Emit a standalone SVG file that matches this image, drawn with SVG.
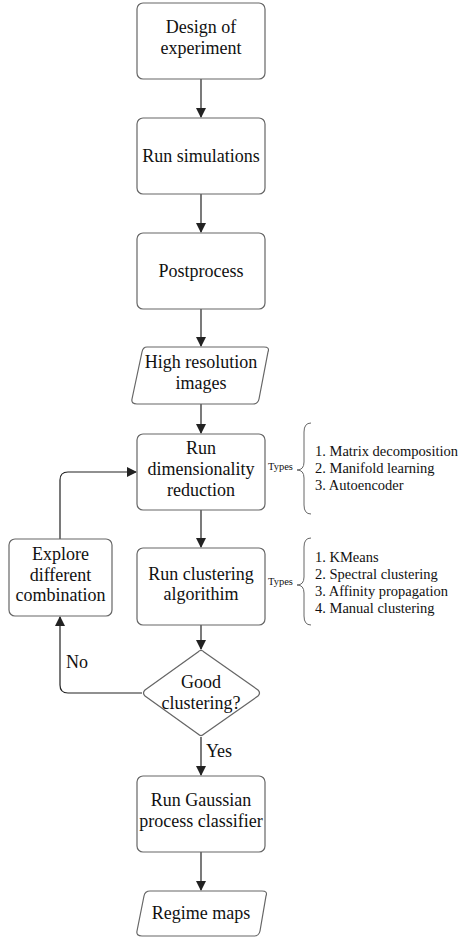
<svg xmlns="http://www.w3.org/2000/svg" width="459" height="939" viewBox="0 0 459 939">
<defs>
<marker id="ah" markerWidth="10" markerHeight="10" refX="9" refY="5" orient="auto" markerUnits="userSpaceOnUse"><path d="M0,0 L10,5 L0,10 Z" fill="#222"/></marker>
<style>
.box{fill:#fff;stroke:#666;stroke-width:1.2}
.t{font-family:'Liberation Serif','Times New Roman',Tinos,'DejaVu Serif',serif;font-size:18px;fill:#111;text-anchor:middle}
.s{font-family:'Liberation Serif','Times New Roman',Tinos,'DejaVu Serif',serif;font-size:14.5px;fill:#111}
.ty{font-family:'Liberation Serif','Times New Roman',Tinos,'DejaVu Serif',serif;font-size:10.5px;fill:#111}
.c{fill:none;stroke:#222;stroke-width:1.2}
.br{fill:none;stroke:#666;stroke-width:1}
</style>
</defs>
<rect width="459" height="939" fill="#fff"/>
<g id="connectors">
<path class="c" d="M201,79 V117" marker-end="url(#ah)"/>
<path class="c" d="M201,194 V232" marker-end="url(#ah)"/>
<path class="c" d="M201,309 V346" marker-end="url(#ah)"/>
<path class="c" d="M201,404 V433" marker-end="url(#ah)"/>
<path class="c" d="M201,510 V547" marker-end="url(#ah)"/>
<path class="c" d="M201,625 V649" marker-end="url(#ah)"/>
<path class="c" d="M201,737 V775" marker-end="url(#ah)"/>
<path class="c" d="M201,852 V890" marker-end="url(#ah)"/>
<path class="c" d="M142,693 H68 Q60,693 60,685 V617" marker-end="url(#ah)"/>
<path class="c" d="M60,539 V480 Q60,472 68,472 H136" marker-end="url(#ah)"/>
<text class="t" x="77" y="668">No</text>
<text class="t" x="219" y="757">Yes</text>
</g>
<g id="n1"><rect class="box" x="137" y="3" width="128" height="76" rx="6"/><text class="t" x="201" y="33">Design of</text><text class="t" x="201" y="54">experiment</text></g>
<g id="n2"><rect class="box" x="137" y="118" width="128" height="76" rx="6"/><text class="t" x="201" y="162">Run simulations</text></g>
<g id="n3"><rect class="box" x="137" y="233" width="128" height="76" rx="6"/><text class="t" x="201" y="277">Postprocess</text></g>
<g id="n4"><path class="box" d="M147,347 H264 Q270,347 268,352 L259,399 Q258,404 253,404 H137 Q131,404 132,399 L142,352 Q143,347 147,347 Z"/><text class="t" x="201" y="368">High resolution</text><text class="t" x="201" y="389">images</text></g>
<g id="n5"><rect class="box" x="137" y="434" width="128" height="76" rx="6"/><text class="t" x="201" y="454">Run</text><text class="t" x="201" y="475">dimensionality</text><text class="t" x="201" y="496">reduction</text></g>
<g id="n6"><rect class="box" x="137" y="548" width="128" height="77" rx="6"/><text class="t" x="201" y="580">Run clustering</text><text class="t" x="201" y="600">algorithim</text></g>
<g id="n7"><rect class="box" x="9" y="539" width="103" height="77" rx="6"/><text class="t" x="60.5" y="560">Explore</text><text class="t" x="60.5" y="581">different</text><text class="t" x="60.5" y="601">combination</text></g>
<g id="n8"><path class="box" d="M198,652 Q201,649 204,652 L258,690 Q261,693 258,696 L204,734 Q201,737 198,734 L145,696 Q142,693 145,690 Z"/><text class="t" x="201" y="688">Good</text><text class="t" x="201" y="709">clustering?</text></g>
<g id="n9"><rect class="box" x="137" y="776" width="128" height="76" rx="6"/><text class="t" x="201" y="806">Run Gaussian</text><text class="t" x="201" y="827">process classifier</text></g>
<g id="n10"><path class="box" d="M150,891 H262 Q268,891 266,896 L260,931 Q259,936 254,936 H142 Q136,936 137,931 L144,896 Q145,891 150,891 Z"/><text class="t" x="201" y="919">Regime maps</text></g>
<g id="types1">
<text class="ty" x="268" y="470">Types</text>
<path class="br" d="M311,423 Q304,423 304,432 V462 Q304,470 297,470 Q304,470 304,478 V505 Q304,514 311,514"/>
<text class="s" x="315" y="456">1. Matrix decomposition</text>
<text class="s" x="315" y="473">2. Manifold learning</text>
<text class="s" x="315" y="490">3. Autoencoder</text>
</g>
<g id="types2">
<text class="ty" x="268" y="585">Types</text>
<path class="br" d="M311,538 Q304,538 304,547 V577 Q304,585 297,585 Q304,585 304,593 V616 Q304,625 311,625"/>
<text class="s" x="315" y="562">1. KMeans</text>
<text class="s" x="315" y="579">2. Spectral clustering</text>
<text class="s" x="315" y="596">3. Affinity propagation</text>
<text class="s" x="315" y="613">4. Manual clustering</text>
</g>
</svg>
